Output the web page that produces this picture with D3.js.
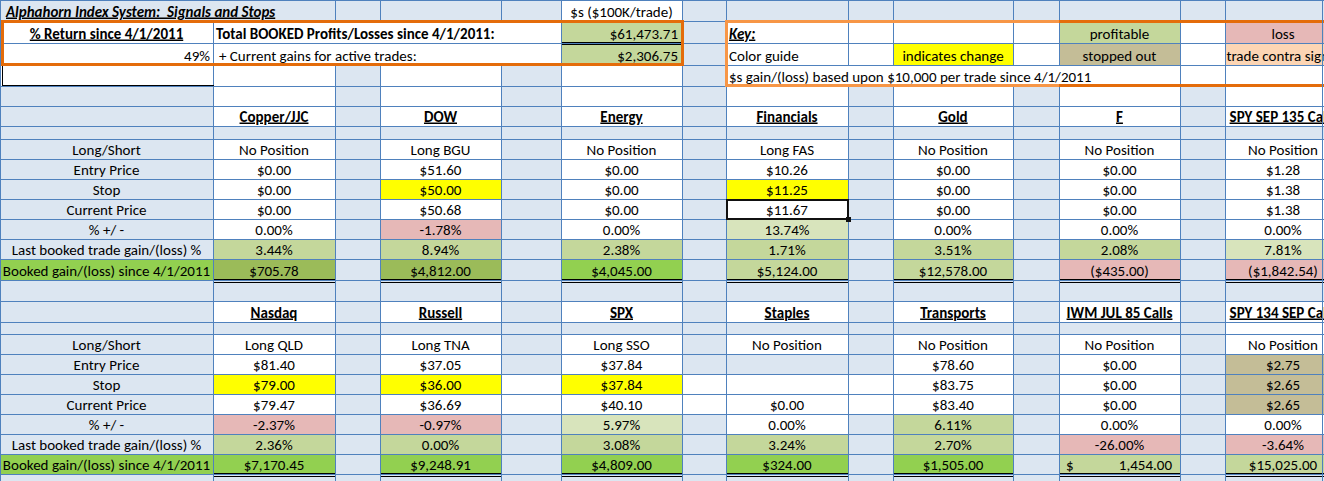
<!DOCTYPE html>
<html>
<head>
<meta charset="utf-8">
<script src="https://cdn.jsdelivr.net/npm/d3@7"></script>
<style>
  body { margin: 0; padding: 0; background: #fff; overflow: hidden; }
  svg { display: block; font-family: Carlito, Lato, "Noto Sans", sans-serif; }
  text { font-size: 15px; fill: #000; white-space: pre; }
</style>
</head>
<body>
<svg id="sheet" width="1324" height="481"></svg>
<script>
// ---- summary / key ----
var title = "Alphahorn Index System:  Signals and Stops";
var unitNote = "$s ($100K/trade)";
var pctReturn = 49;
var totalBooked = 61473.71;
var activeGains = 2306.75;
var keyLabels = ["profitable", "loss", "indicates change", "stopped out", "trade contra signal"];
var keyNote = "$s gain/(loss) based upon $10,000 per trade since 4/1/2011";

var rowLabels = ["Long/Short", "Entry Price", "Stop", "Current Price", "% +/ -",
  "Last booked trade gain/(loss) %", "Booked gain/(loss) since 4/1/2011"];

// ---- upper block ----
var topNames = ["Copper/JJC", "DOW", "Energy", "Financials", "Gold", "F", "SPY SEP 135 Calls"];
var topPosition = ["No Position", "Long BGU", "No Position", "Long FAS", "No Position", "No Position", "No Position"];
var topEntry = [0, 51.60, 0, 10.26, 0, 0, 1.28];
var topStop = [0, 50.00, 0, 11.25, 0, 0, 1.38];
var topCurrent = [0, 50.68, 0, 11.67, 0, 0, 1.38];
var topPct = [0, -1.78, 0, 13.74, 0, 0, 0];
var topLast = [3.44, 8.94, 2.38, 1.71, 3.51, 2.08, 7.81];
var topBooked = [705.78, 4812.00, 4045.00, 5124.00, 12578.00, -435.00, -1842.54];
// status flags (which key colour a cell carries)
var topStopFlag = ["", "chg", "", "chg", "", "", ""];
var topPctFlag = ["", "loss", "", "up", "", "", ""];
var topLastFlag = ["prof", "prof", "prof", "prof", "prof", "prof", "up"];
var topBookedFlag = ["olive", "olive", "green", "prof", "prof", "loss", "loss"];

// ---- lower block ----
var lowNames = ["Nasdaq", "Russell", "SPX", "Staples", "Transports", "IWM JUL 85 Calls", "SPY 134 SEP Calls"];
var lowPosition = ["Long QLD", "Long TNA", "Long SSO", "No Position", "No Position", "No Position", "No Position"];
var lowEntry = [81.40, 37.05, 37.84, null, 78.60, 0, 2.75];
var lowStop = [79.00, 36.00, 37.84, null, 83.75, 0, 2.65];
var lowCurrent = [79.47, 36.69, 40.10, 0, 83.40, 0, 2.65];
var lowPct = [-2.37, -0.97, 5.97, 0, 6.11, 0, 0];
var lowLast = [2.36, 0.00, 3.08, 3.24, 2.70, -26.00, -3.64];
var lowBooked = [7170.45, 9248.91, 4809.00, 324.00, 1505.00, 1454.00, 15025.00];
var lowEntryFlag = ["", "", "", "blank", "", "", "stop"];
var lowStopFlag = ["chg", "chg", "chg", "", "", "", "stop"];
var lowCurrentFlag = ["", "", "", "", "", "", "stop"];
var lowPctFlag = ["loss", "loss", "up", "", "prof", "", ""];
var lowLastFlag = ["prof", "prof", "prof", "prof", "prof", "loss", "loss"];
var lowBookedFlag = ["green", "green", "green", "green", "green", "prof", "prof"];
var lowBookedAcct = [false, false, false, false, false, true, false];

// ---- layout ----
var BLUE = "#dce6f1", WHITE = "#ffffff", GRID = "#4f81bd";
var colours = {chg: "#ffff00", loss: "#e6b8b7", prof: "#c4d79b", up: "#d8e4bc",
  olive: "#9bbb59", green: "#92d050", stop: "#c4bd97", contra: "#fcd5b4", blank: BLUE};

var colEdges = [0, 213, 335, 380, 501, 561, 682, 726, 848, 893, 1013, 1059, 1180, 1225, 1341];
var rowEdges = [0, 21, 43, 65, 86, 106, 126, 139, 159, 179, 199, 219, 239, 259, 280, 301, 322, 334,
  354, 374, 394, 414, 434, 454, 474, 495];
var x = d3.scaleOrdinal(d3.range(14), colEdges.slice(0, 14));
var y = d3.scaleOrdinal(d3.range(25), rowEdges.slice(0, 25));
var cw = function(c) { return colEdges[c + 1] - colEdges[c]; };
var rh = function(r) { return rowEdges[r + 1] - rowEdges[r]; };
var dataCols = [1, 3, 5, 7, 9, 11, 13];

var fmtMoney = function(v) {
  if (v == null) return "";
  var s = d3.format("$,.2f")(Math.abs(v));
  return v < 0 ? "(" + s + ")" : s;
};
var fmtPct = function(v) { return (v < 0 ? "-" : "") + d3.format(".2f")(Math.abs(v)) + "%"; };

function baseFill(r, c) {
  if (r === 0) return c === 5 ? WHITE : BLUE;
  if (r === 1 || r === 2) return c === 6 ? BLUE : WHITE;
  if (r === 3) return (c === 2 || c === 4 || c === 6) ? BLUE : WHITE;
  if (r === 6 || r === 14 || r === 24) return BLUE;
  if (r === 16) return c === 13 ? WHITE : BLUE;
  if (c === 0) return BLUE;
  return c % 2 === 1 ? WHITE : BLUE;
}

var fills = {};
d3.range(25).forEach(function(r) {
  d3.range(14).forEach(function(c) { fills[r + "_" + c] = baseFill(r, c); });
});
// gap cells left white in the lower stop / current rows
[[19, 4], [19, 6], [19, 8], [20, 4], [20, 6], [20, 8]].forEach(function(p) { fills[p[0] + "_" + p[1]] = WHITE; });
// summary and key colours
fills["1_5"] = colours.prof; fills["2_5"] = colours.prof;
fills["1_11"] = colours.prof; fills["1_13"] = colours.loss;
fills["2_9"] = colours.chg; fills["2_11"] = colours.stop; fills["2_13"] = colours.contra;
fills["13_0"] = colours.green; fills["23_0"] = colours.green;

var blocks = [
  {row: 5, names: topNames, rows: [
    {vals: topPosition, fmt: String},
    {vals: topEntry, fmt: fmtMoney},
    {vals: topStop, fmt: fmtMoney, flags: topStopFlag},
    {vals: topCurrent, fmt: fmtMoney},
    {vals: topPct, fmt: fmtPct, flags: topPctFlag},
    {vals: topLast, fmt: fmtPct, flags: topLastFlag},
    {vals: topBooked, fmt: fmtMoney, flags: topBookedFlag}]},
  {row: 15, names: lowNames, rows: [
    {vals: lowPosition, fmt: String},
    {vals: lowEntry, fmt: fmtMoney, flags: lowEntryFlag},
    {vals: lowStop, fmt: fmtMoney, flags: lowStopFlag},
    {vals: lowCurrent, fmt: fmtMoney, flags: lowCurrentFlag},
    {vals: lowPct, fmt: fmtPct, flags: lowPctFlag},
    {vals: lowLast, fmt: fmtPct, flags: lowLastFlag},
    {vals: lowBooked, fmt: fmtMoney, flags: lowBookedFlag, acct: lowBookedAcct}]}
];
blocks.forEach(function(b) {
  b.rows.forEach(function(row, i) {
    if (!row.flags) return;
    row.flags.forEach(function(f, j) {
      if (f) fills[(b.row + 2 + i) + "_" + dataCols[j]] = colours[f];
    });
  });
});

var svg = d3.select("#sheet").attr("shape-rendering", "crispEdges");

var cells = [];
Object.keys(fills).forEach(function(k) {
  var p = k.split("_").map(Number);
  cells.push({r: p[0], c: p[1], fill: fills[k]});
});
svg.append("g").selectAll("rect").data(cells).join("rect")
  .attr("x", function(d) { return x(d.c) + 0.5; })
  .attr("y", function(d) { return y(d.r) + 0.5; })
  .attr("width", function(d) { return cw(d.c); })
  .attr("height", function(d) { return rh(d.r); })
  .attr("fill", function(d) { return d.fill; })
  .attr("stroke", GRID).attr("stroke-width", 1);

// merged areas where text overflows (gridlines hidden): [row, firstCol, lastCol, fill]
var merges = [[0, 0, 1, BLUE], [1, 1, 4, WHITE], [2, 1, 4, WHITE], [3, 7, 11, WHITE]];
svg.append("g").selectAll("rect").data(merges).join("rect")
  .attr("x", function(d) { return x(d[1]) + 1; })
  .attr("y", function(d) { return y(d[0]) + 1; })
  .attr("width", function(d) { return colEdges[d[2] + 1] - colEdges[d[1]] - 1; })
  .attr("height", function(d) { return rh(d[0]) - 1; })
  .attr("fill", function(d) { return d[3]; });

var tg = svg.append("g");
function txt(r, c, s, o) {
  o = o || {};
  var anchor = o.anchor || "middle";
  var tx = anchor === "middle" ? x(c) + cw(c) / 2 : anchor === "start" ? x(c) + (o.pad != null ? o.pad : 3) : x(c) + cw(c) - (o.pad != null ? o.pad : 4);
  var t = tg.append("text")
    .attr("x", tx).attr("y", y(r) + rh(r) - 4.5)
    .attr("text-anchor", anchor).text(s);
  if (o.bold) t.attr("font-weight", "bold");
  if (o.italic) t.attr("font-style", "italic");
  if (o.underline) t.attr("text-decoration", "underline");
  return t;
}

// header area
txt(0, 0, title, {anchor: "start", pad: 6, bold: true, italic: true, underline: true});
txt(0, 5, unitNote);
txt(1, 0, "% Return since 4/1/2011", {bold: true, underline: true});
txt(1, 1, "Total BOOKED Profits/Losses since 4/1/2011:", {anchor: "start", bold: true});
txt(1, 5, fmtMoney(totalBooked), {anchor: "end"});
txt(2, 0, pctReturn + "%", {anchor: "end", pad: 3});
txt(2, 1, "+ Current gains for active trades:", {anchor: "start", pad: 6});
txt(2, 5, fmtMoney(activeGains), {anchor: "end"});
txt(1, 7, "Key:", {anchor: "start", bold: true, italic: true, underline: true});
txt(2, 7, "Color guide", {anchor: "start"});
txt(3, 7, keyNote, {anchor: "start"});
txt(1, 11, keyLabels[0]);
txt(1, 13, keyLabels[1]);
txt(2, 9, keyLabels[2]);
txt(2, 11, keyLabels[3]);
txt(2, 13, keyLabels[4]);

// blocks
blocks.forEach(function(b) {
  b.names.forEach(function(n, j) { txt(b.row, dataCols[j], n, {bold: true, underline: true}); });
  b.rows.forEach(function(row, i) {
    var r = b.row + 2 + i;
    txt(r, 0, rowLabels[i]);
    row.vals.forEach(function(v, j) {
      var c = dataCols[j];
      if (row.acct && row.acct[j]) {
        txt(r, c, "$", {anchor: "start", pad: 7});
        txt(r, c, d3.format(",.2f")(v), {anchor: "end", pad: 8});
      } else {
        txt(r, c, row.fmt(v));
      }
    });
  });
  // double line under booked row across data columns
  var yb = rowEdges[b.row + 9];
  dataCols.forEach(function(c) {
    [yb - 0.5, yb + 2.5].forEach(function(yy) {
      svg.append("line").attr("x1", x(c) + 1).attr("x2", x(c) + cw(c))
        .attr("y1", yy).attr("y2", yy).attr("stroke", "#000").attr("stroke-width", 1);
    });
  });
});

// double underline on total booked
[42.5, 44.5].forEach(function(yy) {
  svg.append("line").attr("x1", x(5) + 1).attr("x2", x(5) + cw(5))
    .attr("y1", yy).attr("y2", yy).attr("stroke", "#000").attr("stroke-width", 1);
});

// black box in A row 4
svg.append("path")
  .attr("d", "M2.5," + y(3) + "V" + (rowEdges[4] - 0.5) + "H" + (colEdges[1] + 0.5))
  .attr("fill", "none").attr("stroke", "#000").attr("stroke-width", 1);

// orange summary box
svg.append("rect").attr("x", 2).attr("y", rowEdges[1] + 0.5)
  .attr("width", colEdges[6] - 2).attr("height", rowEdges[3] - rowEdges[1] - 1)
  .attr("fill", "none").attr("stroke", "#e46c0a").attr("stroke-width", 3);

// key box: lighter orange on the left part, darker on the right
var kTop = rowEdges[1] + 0.5, kBot = rowEdges[4] - 0.5;
svg.append("path")
  .attr("d", "M" + colEdges[11] + "," + kTop + "H" + (colEdges[7] + 0.5) + "V" + kBot + "H" + colEdges[11])
  .attr("fill", "none").attr("stroke", "#f79646").attr("stroke-width", 3);
svg.append("path")
  .attr("d", "M" + colEdges[11] + "," + kTop + "H1330M" + colEdges[11] + "," + kBot + "H1330")
  .attr("fill", "none").attr("stroke", "#e46c0a").attr("stroke-width", 3);

// active cell (Financials current price)
svg.append("rect").attr("x", x(7) + 1).attr("y", y(10) + 1)
  .attr("width", cw(7) - 1).attr("height", rh(10) - 1)
  .attr("fill", "none").attr("stroke", "#111").attr("stroke-width", 2);
svg.append("rect").attr("x", colEdges[8] - 2).attr("y", rowEdges[11] - 2)
  .attr("width", 5).attr("height", 5).attr("fill", "#111");

// window edge
svg.append("line").attr("x1", 1322.5).attr("x2", 1322.5).attr("y1", 0).attr("y2", 481)
  .attr("stroke", GRID).attr("stroke-width", 1);
</script>
</body>
</html>
